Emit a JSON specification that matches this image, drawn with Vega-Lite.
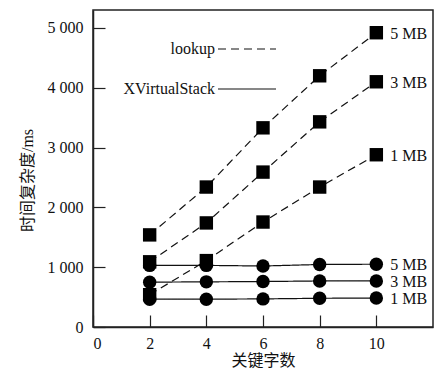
{
  "$schema": "https://vega.github.io/schema/vega-lite/v6.json",
  "width": 340,
  "height": 317,
  "autosize": "none",
  "padding": {"left": 93, "top": 10, "right": 2, "bottom": 46},
  "background": "white",
  "config": {
    "font": "Liberation Serif",
    "view": {"stroke": "#222", "strokeWidth": 1.5},
    "axis": {
      "grid": false,
      "domainColor": "#222",
      "tickColor": "#222",
      "labelColor": "#111",
      "titleColor": "#111",
      "labelFont": "Liberation Serif",
      "titleFont": "Liberation Serif, Noto Sans CJK SC",
      "labelFontSize": 16,
      "titleFontSize": 16,
      "titleFontWeight": "normal",
      "tickSize": -12,
      "domainWidth": 1.5,
      "tickWidth": 1.2
    }
  },
  "data": {
    "values": [
      {"method": "lookup", "size": "5 MB", "keywords": 2, "time": 1540},
      {"method": "lookup", "size": "5 MB", "keywords": 4, "time": 2340},
      {"method": "lookup", "size": "5 MB", "keywords": 6, "time": 3330},
      {"method": "lookup", "size": "5 MB", "keywords": 8, "time": 4200},
      {"method": "lookup", "size": "5 MB", "keywords": 10, "time": 4920},
      {"method": "lookup", "size": "3 MB", "keywords": 2, "time": 1090},
      {"method": "lookup", "size": "3 MB", "keywords": 4, "time": 1740},
      {"method": "lookup", "size": "3 MB", "keywords": 6, "time": 2590},
      {"method": "lookup", "size": "3 MB", "keywords": 8, "time": 3430},
      {"method": "lookup", "size": "3 MB", "keywords": 10, "time": 4100},
      {"method": "lookup", "size": "1 MB", "keywords": 2, "time": 540},
      {"method": "lookup", "size": "1 MB", "keywords": 4, "time": 1110},
      {"method": "lookup", "size": "1 MB", "keywords": 6, "time": 1755},
      {"method": "lookup", "size": "1 MB", "keywords": 8, "time": 2340},
      {"method": "lookup", "size": "1 MB", "keywords": 10, "time": 2880},
      {"method": "XVirtualStack", "size": "5 MB", "keywords": 2, "time": 1030},
      {"method": "XVirtualStack", "size": "5 MB", "keywords": 4, "time": 1030},
      {"method": "XVirtualStack", "size": "5 MB", "keywords": 6, "time": 1020},
      {"method": "XVirtualStack", "size": "5 MB", "keywords": 8, "time": 1045},
      {"method": "XVirtualStack", "size": "5 MB", "keywords": 10, "time": 1050},
      {"method": "XVirtualStack", "size": "3 MB", "keywords": 2, "time": 750},
      {"method": "XVirtualStack", "size": "3 MB", "keywords": 4, "time": 755},
      {"method": "XVirtualStack", "size": "3 MB", "keywords": 6, "time": 760},
      {"method": "XVirtualStack", "size": "3 MB", "keywords": 8, "time": 770},
      {"method": "XVirtualStack", "size": "3 MB", "keywords": 10, "time": 770},
      {"method": "XVirtualStack", "size": "1 MB", "keywords": 2, "time": 465},
      {"method": "XVirtualStack", "size": "1 MB", "keywords": 4, "time": 465},
      {"method": "XVirtualStack", "size": "1 MB", "keywords": 6, "time": 470},
      {"method": "XVirtualStack", "size": "1 MB", "keywords": 8, "time": 480},
      {"method": "XVirtualStack", "size": "1 MB", "keywords": 10, "time": 485}
    ]
  },
  "encoding": {
    "x": {
      "field": "keywords",
      "type": "quantitative",
      "scale": {"domain": [0, 12], "nice": false},
      "axis": {"values": [0, 2, 4, 6, 8, 10], "title": "关键字数", "labelPadding": 20, "titlePadding": 1}
    },
    "y": {
      "field": "time",
      "type": "quantitative",
      "scale": {"domain": [0, 5300], "nice": false},
      "axis": {
        "values": [0, 1000, 2000, 3000, 4000, 5000],
        "labelExpr": "replace(format(datum.value, ','), ',', ' ')",
        "title": "时间复杂度/ms",
        "titleY": 170,
        "labelPadding": 22,
        "titlePadding": 12
      }
    }
  },
  "layer": [
    {
      "mark": {"type": "line", "color": "#111", "strokeWidth": 1.2},
      "encoding": {
        "detail": {"field": "size"},
        "strokeDash": {
          "field": "method",
          "type": "nominal",
          "scale": {"domain": ["lookup", "XVirtualStack"], "range": [[8, 5], [1, 0]]},
          "legend": {
            "title": null,
            "orient": "none",
            "legendX": 124,
            "legendY": 9,
            "symbolType": "stroke",
            "symbolSize": 3364,
            "symbolStrokeWidth": 1.2,
            "symbolStrokeColor": "#111",
            "labelAlign": "right",
            "labelOffset": -62,
            "labelFontSize": 16,
            "labelColor": "#111",
            "labelFont": "Liberation Serif",
            "rowPadding": 2
          }
        }
      }
    },
    {
      "transform": [{"filter": "datum.method == 'lookup'"}],
      "mark": {"type": "square", "filled": true, "color": "#000", "opacity": 1, "size": 180}
    },
    {
      "transform": [{"filter": "datum.method == 'XVirtualStack'"}],
      "mark": {"type": "circle", "filled": true, "color": "#000", "opacity": 1, "size": 180}
    },
    {
      "transform": [{"filter": "datum.keywords == 10"}],
      "mark": {"type": "text", "align": "left", "baseline": "middle", "dx": 14, "fontSize": 16, "font": "Liberation Serif", "color": "#111"},
      "encoding": {
        "text": {"field": "size"},
        "yOffset": {"condition": {"test": "datum.method == 'lookup'", "value": -4}, "value": 1}
      }
    }
  ]
}
